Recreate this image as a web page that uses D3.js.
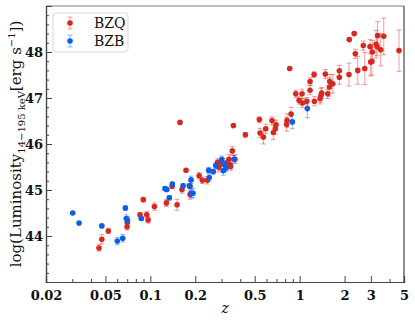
<!DOCTYPE html>
<html>
<head>
<meta charset="utf-8">
<script src="https://cdn.jsdelivr.net/npm/d3@7"></script>
<style>
  body { margin: 0; background: #fff; }
  text { font-family: "DejaVu Serif", serif; }
</style>
</head>
<body>
<div id="chart"></div>
<script>
// BZQ (flat spectrum radio quasars)
const bzqZ = [0.0453, 0.0473, 0.0523, 0.0698, 0.0702, 0.0853, 0.0897, 0.0946, 0.0966, 0.1065,
  0.128, 0.140, 0.151, 0.158, 0.163, 0.1734, 0.1824, 0.1846, 0.212, 0.223,
  0.241, 0.282, 0.288, 0.296, 0.325, 0.3365, 0.342, 0.345, 0.354, 0.369,
  0.36, 0.433, 0.537, 0.543, 0.572, 0.593, 0.653, 0.667, 0.687, 0.695,
  0.818, 0.823, 0.858, 0.876, 0.942, 0.991, 1.038, 1.042, 1.116, 1.174,
  1.174, 1.249, 1.255, 1.37, 1.391, 1.406, 1.486, 1.542, 1.581, 1.591,
  1.667, 1.845, 1.845, 2.14, 2.15, 2.32, 2.36, 2.45, 2.67, 2.73,
  2.96, 2.99, 3.05, 3.07, 3.25, 3.30, 3.33, 3.49, 3.66, 4.63];
const bzqLum = [43.74, 43.93, 44.11, 44.20, 44.30, 44.46, 44.79, 44.46, 44.35, 44.64,
  44.72, 45.08, 44.68, 46.47, 45.01, 45.43, 45.09, 44.90, 45.31, 45.21,
  45.21, 45.60, 45.49, 45.58, 45.59, 45.67, 45.55, 45.51, 45.85, 45.67,
  46.40, 46.20, 46.53, 46.24, 46.15, 46.33, 46.51, 46.25, 46.33, 46.42,
  46.43, 46.51, 47.64, 46.65, 47.09, 46.95, 47.09, 46.89, 46.93, 47.36,
  47.17, 47.51, 46.93, 46.99, 47.06, 47.11, 47.52, 47.09, 47.24, 47.36,
  47.31, 47.59, 47.45, 47.51, 48.27, 48.40, 47.96, 47.60, 48.14, 47.64,
  48.12, 47.78, 47.80, 48.00, 48.17, 48.12, 48.36, 48.05, 48.34, 48.03];
const bzqErr = [0.07, 0.10, 0.05, 0.07, 0.10, 0.05, 0.04, 0.07, 0.07, 0.08,
  0.08, 0.05, 0.12, 0.02, 0.08, 0.03, 0.05, 0.10, 0.07, 0.07,
  0.08, 0.08, 0.10, 0.07, 0.10, 0.10, 0.08, 0.08, 0.10, 0.10,
  0.03, 0.05, 0.06, 0.10, 0.15, 0.10, 0.08, 0.15, 0.12, 0.10,
  0.15, 0.15, 0.02, 0.15, 0.08, 0.08, 0.10, 0.10, 0.08, 0.08,
  0.10, 0.06, 0.10, 0.12, 0.15, 0.12, 0.10, 0.10, 0.20, 0.15,
  0.20, 0.12, 0.15, 0.25, 0.03, 0.03, 0.10, 0.30, 0.10, 0.35,
  0.15, 0.30, 0.30, 0.25, 0.30, 0.20, 0.30, 0.35, 0.40, 0.45];

// BZB (BL Lacs)
const bzbZ = [0.0302, 0.0333, 0.0473, 0.0601, 0.0653, 0.068, 0.069, 0.0702, 0.087, 0.1254,
  0.1288, 0.134, 0.1404, 0.1656, 0.1874, 0.1846, 0.188, 0.193, 0.246, 0.248,
  0.264, 0.274, 0.301, 0.308, 0.315, 0.321, 0.3636, 0.894, 1.126];
const bzbLum = [44.50, 44.28, 44.22, 43.89, 43.95, 44.61, 44.38, 44.34, 44.38, 45.03,
  45.01, 44.83, 45.13, 45.09, 45.22, 45.08, 44.93, 44.93, 45.43, 45.27,
  45.40, 45.53, 45.66, 45.42, 45.55, 45.48, 45.67, 46.48, 46.77];
const bzbErr = [0.01, 0.01, 0.02, 0.08, 0.08, 0.05, 0.08, 0.08, 0.04, 0.04,
  0.03, 0.05, 0.04, 0.05, 0.08, 0.12, 0.10, 0.10, 0.06, 0.08,
  0.05, 0.06, 0.08, 0.10, 0.08, 0.08, 0.08, 0.15, 0.20];

const xMajor = [0.02, 0.05, 0.1, 0.2, 0.5, 1, 2, 3, 5];
const xMinor = [0.03, 0.04, 0.06, 0.07, 0.08, 0.09, 0.3, 0.4, 0.6, 0.7, 0.8, 0.9, 4];
const yMajor = [44, 45, 46, 47, 48];

const width = 415, height = 323;
const plot = { left: 46, right: 404, top: 6, bottom: 282 };
const red = '#d62a20', blue = '#0a5fe6';

const svg = d3.select('#chart').append('svg')
  .attr('width', width).attr('height', height);

const x = d3.scaleLog().domain([0.02, 5]).range([plot.left, plot.right]);
const y = d3.scaleLinear().domain([43, 49]).range([plot.bottom, plot.top]);

const yMinor = d3.range(43, 49.001, 0.2).filter(v => Math.abs(v - Math.round(v)) > 0.01);

// frame
svg.append('line').attr('x1', plot.left).attr('x2', plot.right).attr('y1', plot.top).attr('y2', plot.top)
  .attr('stroke', '#a8a8a8').attr('stroke-width', 1.5);
svg.append('line').attr('x1', plot.right).attr('x2', plot.right).attr('y1', plot.top).attr('y2', plot.bottom)
  .attr('stroke', '#444').attr('stroke-width', 1.2);

// axes with inward ticks
const xAxis = svg.append('g').attr('transform', `translate(0,${plot.bottom})`)
  .call(d3.axisBottom(x).tickValues(xMajor).tickSize(-6).tickPadding(9)
    .tickFormat(d3.format('')));
const xAxisMinor = svg.append('g').attr('transform', `translate(0,${plot.bottom})`)
  .call(d3.axisBottom(x).tickValues(xMinor).tickSize(-3).tickFormat(''));
const yAxis = svg.append('g').attr('transform', `translate(${plot.left},0)`)
  .call(d3.axisLeft(y).tickValues(yMajor).tickSize(-6).tickPadding(3)
    .tickFormat(d3.format('d')));
const yAxisMinor = svg.append('g').attr('transform', `translate(${plot.left},0)`)
  .call(d3.axisLeft(y).tickValues(yMinor).tickSize(-3).tickFormat(''));

[xAxis, xAxisMinor, yAxis, yAxisMinor].forEach(g => {
  g.select('.domain').attr('stroke', '#444').attr('stroke-width', 1.2);
  g.selectAll('.tick line').attr('stroke', '#444').attr('stroke-width', 1);
  g.selectAll('.tick text').attr('fill', '#111')
    .style('font-family', '"DejaVu Serif", serif')
    .style('font-size', '13px').style('font-weight', 'bold');
});

// axis titles
svg.append('text').attr('x', (plot.left + plot.right) / 2).attr('y', 313)
  .attr('text-anchor', 'middle').style('font-size', '14px').style('font-style', 'italic')
  .text('z');

const yl = svg.append('text')
  .attr('transform', `translate(21,${(plot.top + plot.bottom) / 2}) rotate(-90)`)
  .attr('text-anchor', 'middle').style('font-size', '15px').attr('fill', '#111');
yl.append('tspan').text('log(Luminosity');
yl.append('tspan').attr('dy', 4).style('font-size', '10px').text('14\u2212195 keV');
yl.append('tspan').attr('dy', -4).text('[erg s');
yl.append('tspan').attr('dy', -6).style('font-size', '10px').text('\u22121');
yl.append('tspan').attr('dy', 6).text('])');

// error bars + points
function drawSeries(zs, ls, es, color) {
  const pts = zs.map((z, i) => ({ z: z, l: ls[i], e: es[i] }));
  const g = svg.append('g');
  const eb = g.append('g').attr('stroke', color).attr('stroke-opacity', 0.45).attr('stroke-width', 1);
  eb.selectAll('line.v').data(pts).enter().append('line').attr('class', 'v')
    .attr('x1', d => x(d.z)).attr('x2', d => x(d.z))
    .attr('y1', d => y(d.l - d.e)).attr('y2', d => y(d.l + d.e));
  eb.selectAll('line.c1').data(pts).enter().append('line').attr('class', 'c1')
    .attr('x1', d => x(d.z) - 2.5).attr('x2', d => x(d.z) + 2.5)
    .attr('y1', d => y(d.l - d.e)).attr('y2', d => y(d.l - d.e));
  eb.selectAll('line.c2').data(pts).enter().append('line').attr('class', 'c2')
    .attr('x1', d => x(d.z) - 2.5).attr('x2', d => x(d.z) + 2.5)
    .attr('y1', d => y(d.l + d.e)).attr('y2', d => y(d.l + d.e));
  g.selectAll('circle').data(pts).enter().append('circle')
    .attr('cx', d => x(d.z)).attr('cy', d => y(d.l)).attr('r', 2.8)
    .attr('fill', color);
}
drawSeries(bzqZ, bzqLum, bzqErr, red);
drawSeries(bzbZ, bzbLum, bzbErr, blue);

// legend
const lg = svg.append('g');
lg.append('rect').attr('x', 53).attr('y', 13).attr('width', 75).attr('height', 39)
  .attr('rx', 3).attr('fill', '#fff').attr('fill-opacity', 0.85)
  .attr('stroke', '#d8d8d8').attr('stroke-width', 1);
[['BZQ', red, 23], ['BZB', blue, 41]].forEach(([name, color, ly]) => {
  lg.append('line').attr('x1', 70).attr('x2', 70).attr('y1', ly - 6).attr('y2', ly + 6)
    .attr('stroke', color).attr('stroke-opacity', 0.45);
  lg.append('line').attr('x1', 67.5).attr('x2', 72.5).attr('y1', ly - 6).attr('y2', ly - 6)
    .attr('stroke', color).attr('stroke-opacity', 0.45);
  lg.append('line').attr('x1', 67.5).attr('x2', 72.5).attr('y1', ly + 6).attr('y2', ly + 6)
    .attr('stroke', color).attr('stroke-opacity', 0.45);
  lg.append('circle').attr('cx', 70).attr('cy', ly).attr('r', 2.8).attr('fill', color);
  lg.append('text').attr('x', 94).attr('y', ly + 5).style('font-size', '14px')
    .attr('fill', '#111').text(name);
});
</script>
</body>
</html>
